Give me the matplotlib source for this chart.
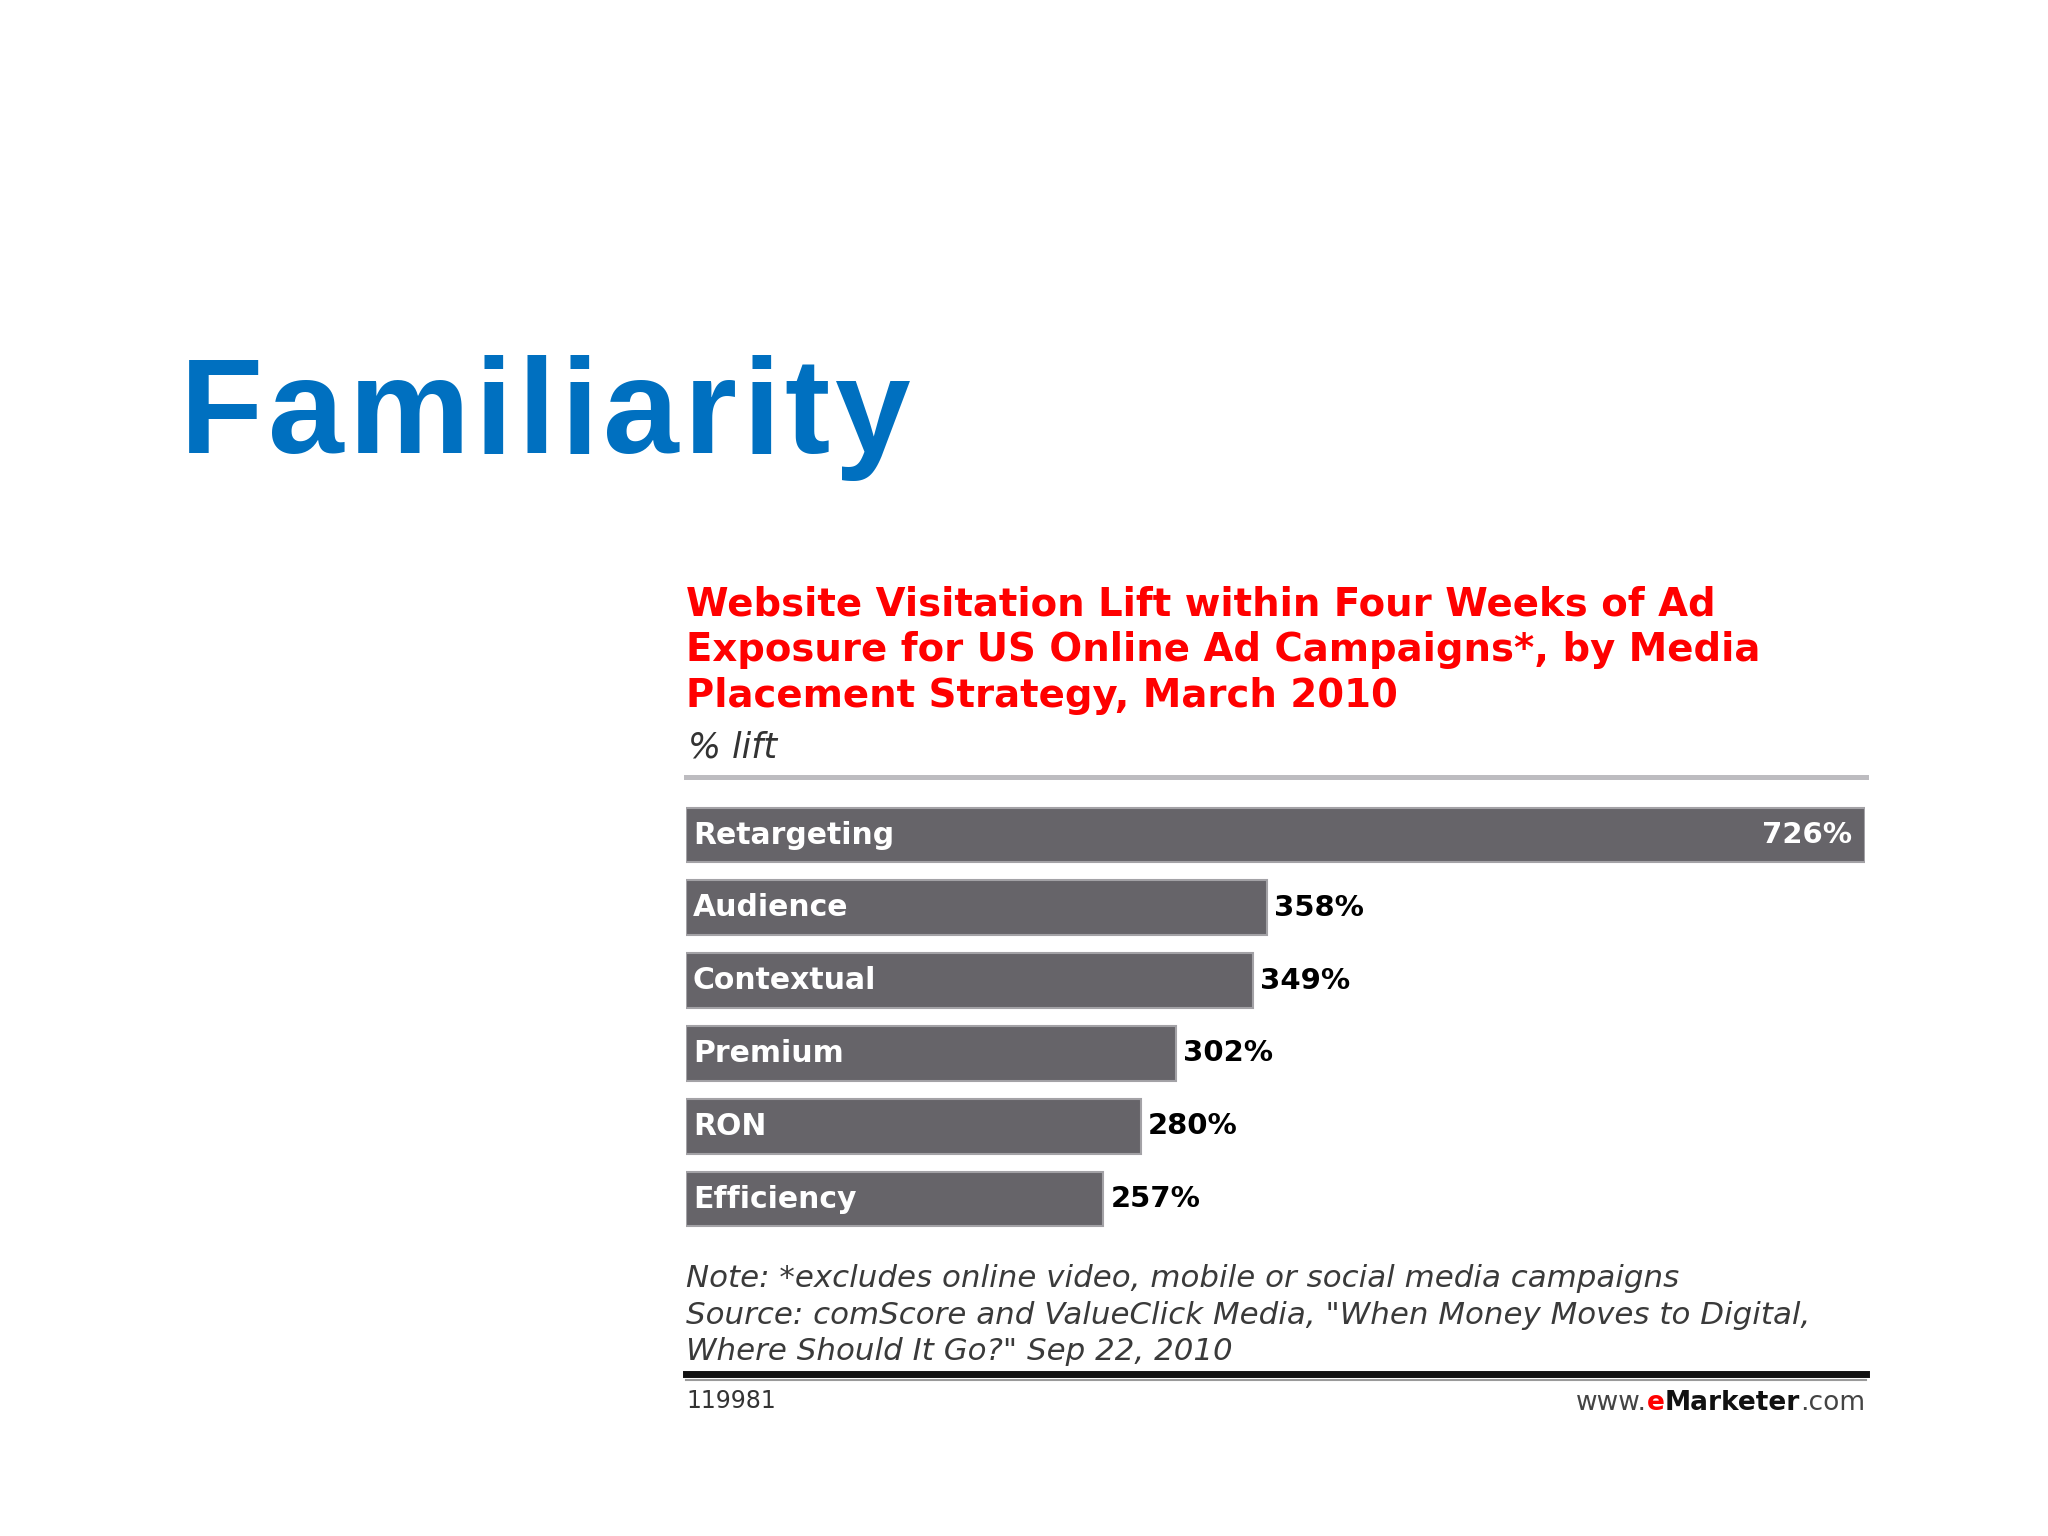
import matplotlib as mpl
mpl.use('Agg')
import matplotlib.pyplot as plt

# data
categorias = ["Retargeting", "Audience", "Contextual", "Premium", "RON", "Efficiency"]
valores = [726, 358, 349, 302, 280, 257]
rotulos = ["726%", "358%", "349%", "302%", "280%", "257%"]

titulo_slide = "Familiarity"
titulo_linhas = ["Website Visitation Lift within Four Weeks of Ad",
                 "Exposure for US Online Ad Campaigns*, by Media",
                 "Placement Strategy, March 2010"]
subtitulo = "% lift"
notas = ["Note: *excludes online video, mobile or social media campaigns",
         "Source: comScore and ValueClick Media, \"When Money Moves to Digital,",
         "Where Should It Go?\" Sep 22, 2010"]
codigo = "119981"

W, H = 2048, 1536
fig = plt.figure(figsize=(W / 100, H / 100), dpi=100)
fig.patch.set_facecolor('white')
rend = fig.canvas.get_renderer()


def fx(px):
    return px / W


def fy(py):
    return 1 - py / H


def largura(t):
    return t.get_window_extent(renderer=rend).width


# slide title, letter by letter with a bit of extra spacing
x = 180
for ch in titulo_slide:
    t = fig.text(fx(x), fy(453), ch, fontsize=98, fontweight='bold',
                 family='Liberation Sans', color='#0070C0', va='baseline', ha='left')
    x += largura(t) + 5

# chart title
for linha, base in zip(titulo_linhas, [615, 661, 707]):
    fig.text(fx(686), fy(base), linha, fontsize=27.8, fontweight='bold',
             family='DejaVu Sans', color='#FF0000', va='baseline', ha='left')

fig.text(fx(688), fy(757), subtitulo, fontsize=25, style='italic',
         family='DejaVu Sans', color='#333333', va='baseline', ha='left')

# rules
fig.add_artist(plt.Line2D([fx(686), fx(1866)], [fy(777), fy(777)], lw=3.6, color='#bdbcc0'))
fig.add_artist(plt.Line2D([fx(686), fx(1866)], [fy(1374), fy(1374)], lw=5, color='#111111'))
fig.add_artist(plt.Line2D([fx(686), fx(1866)], [fy(1380), fy(1380)], lw=1.5, color='#9a9a9a'))

# bars
topo, base = 798.6, 1235.4
ax = fig.add_axes([fx(686), fy(base), 1179 / W, (base - topo) / H])
y = list(range(len(categorias)))
ax.barh(y, valores, height=0.755, color='#666469', edgecolor='#a3a2a6', linewidth=1.5)
ax.set_xlim(0, max(valores))
ax.set_ylim(len(categorias) - 0.5, -0.5)
ax.axis('off')

for i, (cat, v, r) in enumerate(zip(categorias, valores, rotulos)):
    ax.annotate(cat, (0, i), xytext=(5, 0), textcoords='offset points',
                ha='left', va='center', fontsize=21.5, fontweight='bold',
                family='DejaVu Sans', color='white')
    if v == max(valores):
        ax.annotate(r, (v, i), xytext=(-9, 0), textcoords='offset points',
                    ha='right', va='center', fontsize=21, fontweight='bold',
                    family='DejaVu Sans', color='white')
    else:
        ax.annotate(r, (v, i), xytext=(5, 0), textcoords='offset points',
                    ha='left', va='center', fontsize=21, fontweight='bold',
                    family='DejaVu Sans', color='black')

# notes
for linha, b in zip(notas, [1287, 1324, 1360]):
    fig.text(fx(686), fy(b), linha, fontsize=22.2, style='italic',
             family='DejaVu Sans', color='#3a3a3a', va='baseline', ha='left')

fig.text(fx(686), fy(1408), codigo, fontsize=17, family='DejaVu Sans',
         color='#333333', va='baseline', ha='left')

# www.eMarketer.com, right aligned, built from the right
partes = [(".com", 'normal', '#444444'), ("Marketer", 'bold', '#111111'),
          ("e", 'bold', '#FF0000'), ("www.", 'normal', '#444444')]
xd = 1865
for txt, peso, cor in partes:
    t = fig.text(fx(xd), fy(1410), txt, fontsize=19, fontweight=peso,
                 family='DejaVu Sans', color=cor, va='baseline', ha='right')
    xd -= largura(t)

fig.savefig('out.png', dpi=100)
